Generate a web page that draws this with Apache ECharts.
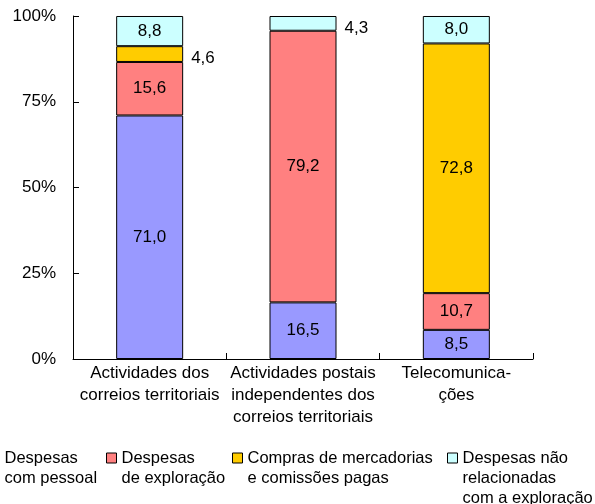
<!DOCTYPE html>
<html>
<head>
<meta charset="utf-8">
<script src="https://cdn.jsdelivr.net/npm/echarts@6/dist/echarts.min.js"></script>
<style>
    html, body { margin: 0; padding: 0; background: #fff; }
    #chart { width: 595px; height: 504px; }
</style>
</head>
<body>
<div id="chart"></div>
<script>
    // categorias e séries (valores em %)
    var categories = [
        'Actividades dos\ncorreios territoriais',
        'Actividades postais\nindependentes dos\ncorreios territoriais',
        'Telecomunica-\nções'
    ];
    var seriesNames = [
        'Despesas\ncom pessoal',
        'Despesas\nde exploração',
        'Compras de mercadorias\ne comissões pagas',
        'Despesas não\nrelacionadas\ncom a exploração'
    ];
    var pessoal = [71.0, 16.5, 8.5];
    var exploracao = [15.6, 79.2, 10.7];
    var compras = [4.6, 0, 72.8];
    var naoRelacionadas = [8.8, 4.3, 8.0];
    var yTicks = [0, 25, 50, 75, 100];

    var colors = ['#9999FF', '#FF8080', '#FFCC00', '#CCFFFF'];
    var font = 'Liberation Sans, Arial, sans-serif';

    // rótulos pequenos ficam à direita da barra
    var outsideLabels = { '2-0': [0, 4], '3-1': [0, 5] };

    function fmt(p) {
        if (!p.value) return '';
        return p.value.toFixed(1).replace('.', ',');
    }

    function makeSeries(idx, values) {
        return {
            name: seriesNames[idx],
            type: 'bar',
            stack: 'total',
            barWidth: 67,
            itemStyle: { color: colors[idx], borderColor: '#000', borderWidth: 1 },
            label: {
                show: true,
                position: 'inside',
                formatter: fmt,
                color: '#000',
                fontFamily: font,
                fontSize: 17
            },
            data: values.map(function (v, i) {
                var off = outsideLabels[idx + '-' + i];
                if (v === 0) return { value: v, itemStyle: { borderWidth: 0 } };
                if (!off) return v;
                return { value: v, label: { position: 'right', distance: 8, offset: off } };
            })
        };
    }

    function legendFor(idx, left, lines) {
        // linhas vazias no início: a primeira linha fica alinhada com o ícone
        var total = lines * 2 - 1;
        var boxTop = 5 - total * 10;
        var blank = new Array(lines).join('\n');
        return {
            left: left,
            top: 453 + boxTop,
            padding: 0,
            itemWidth: 10,
            itemHeight: 10,
            itemGap: 0,
            selectedMode: false,
            icon: 'rect',
            itemStyle: { borderColor: '#000', borderWidth: 1 },
            formatter: function (name) { return blank + name; },
            textStyle: {
                color: '#000',
                fontFamily: font,
                fontSize: 16.5,
                lineHeight: 20
            },
            data: [seriesNames[idx]]
        };
    }

    var chart = echarts.init(document.getElementById('chart'));
    chart.setOption({
        animation: false,
        textStyle: { fontFamily: font },
        grid: { left: 73, right: 62, top: 16, bottom: 145 },
        legend: [
            legendFor(0, -11, 2),
            legendFor(1, 106, 2),
            legendFor(2, 232, 2),
            legendFor(3, 447, 3)
        ],
        xAxis: {
            type: 'category',
            data: categories,
            axisLine: { lineStyle: { color: '#000', width: 1 } },
            axisTick: { show: true, inside: true, length: 6, lineStyle: { color: '#000' } },
            axisLabel: {
                interval: 0,
                margin: 3,
                color: '#000',
                fontFamily: font,
                fontSize: 17,
                lineHeight: 22
            }
        },
        yAxis: {
            type: 'value',
            min: yTicks[0],
            max: yTicks[yTicks.length - 1],
            interval: 25,
            axisLine: { show: true, lineStyle: { color: '#000', width: 1 } },
            axisTick: { show: true, inside: true, length: 6, lineStyle: { color: '#000' } },
            splitLine: { show: false },
            axisLabel: {
                formatter: '{value}%',
                margin: 17,
                color: '#000',
                fontFamily: font,
                fontSize: 17
            }
        },
        series: [
            makeSeries(0, pessoal),
            makeSeries(1, exploracao),
            makeSeries(2, compras),
            makeSeries(3, naoRelacionadas)
        ]
    });
</script>
</body>
</html>
